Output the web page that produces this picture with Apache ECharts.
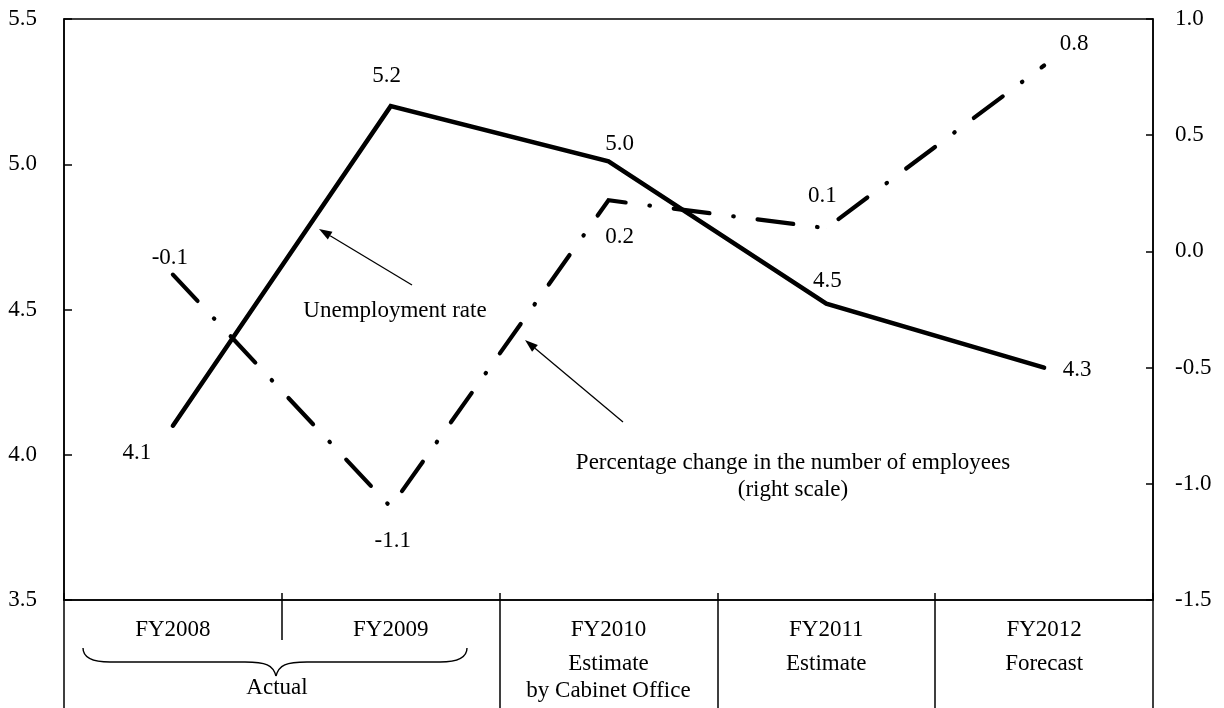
<!DOCTYPE html>
<html><head><meta charset="utf-8">
<script src="https://cdn.jsdelivr.net/npm/echarts@6/dist/echarts.min.js"></script>
<style>html,body{margin:0;padding:0;background:#fff}#c{width:1224px;height:708px}</style>
</head><body><div id="c"></div>
<script>
// ---- data ----
const categories = ['FY2008', 'FY2009', 'FY2010', 'FY2011', 'FY2012'];
const categoryNotes = ['', '', 'Estimate\nby Cabinet Office', 'Estimate', 'Forecast'];
const groupLabel = 'Actual';
const unemploymentRate = [4.1, 5.2, 5.01, 4.52, 4.3];
const employeeChange = [-0.1, -1.1, 0.22, 0.1, 0.8];
const leftScale = { min: 3.5, max: 5.5, step: 0.5 };
const rightScale = { min: -1.5, max: 1.0, step: 0.5 };
const unemploymentName = 'Unemployment rate';
const employeeName = 'Percentage change in the number of employees\n(right scale)';

// ---- styling (kept apart from data) ----
const FONT = "'Liberation Serif', 'Times New Roman', serif";
const FS = 23;
const unempLabelOffsets = [[-36, 27], [-4, -30], [11, -17], [1, -23], [33, 2]];
const empLabelOffsets = [[-3, -17], [2, 34], [11, 37], [-4, -32], [30, -22]];

function arrow(x1, y1, x2, y2) {
  const dx = x2 - x1, dy = y2 - y1, L = Math.hypot(dx, dy);
  const ux = dx / L, uy = dy / L, hl = 13, hw = 4.5;
  const bx = x2 - ux * hl, by = y2 - uy * hl;
  return [
    { type: 'line', shape: { x1: x1, y1: y1, x2: bx, y2: by }, style: { stroke: '#000', lineWidth: 1.3 }, silent: true },
    { type: 'polygon', shape: { points: [[x2, y2], [bx - uy * hw, by + ux * hw], [bx + uy * hw, by - ux * hw]] }, style: { fill: '#000' }, silent: true }
  ];
}
function bez(x1, y1, cpx1, cpy1, cpx2, cpy2, x2, y2) {
  return { type: 'bezierCurve', silent: true,
    shape: { x1: x1, y1: y1, cpx1: cpx1, cpy1: cpy1, cpx2: cpx2, cpy2: cpy2, x2: x2, y2: y2 },
    style: { stroke: '#000', lineWidth: 1.4, fill: null } };
}
function seg(x1, y1, x2, y2) {
  return { type: 'line', silent: true, shape: { x1: x1, y1: y1, x2: x2, y2: y2 }, style: { stroke: '#000', lineWidth: 1.4 } };
}

const chart = echarts.init(document.getElementById('c'), null, { renderer: 'canvas' });
const axisLineStyle = { color: '#000', width: 1.5 };
const txt = { color: '#000', fontFamily: FONT, fontSize: FS };

const catAxisBase = {
  type: 'category', data: categories, position: 'bottom', gridIndex: 0, boundaryGap: true,
  axisLine: { show: false, onZero: false }, axisLabel: { show: false }, splitLine: { show: false }
};

const option = {
  animation: false,
  backgroundColor: '#fff',
  grid: { left: 64, right: 71, top: 19, bottom: 108, show: true, borderColor: '#000', borderWidth: 1.5, containLabel: false },
  xAxis: [
    Object.assign({}, catAxisBase, {
      axisLine: { show: true, onZero: false, lineStyle: axisLineStyle },
      axisTick: { show: true, inside: true, length: 7, interval: 0, lineStyle: axisLineStyle },
      axisLabel: {
        show: true, interval: 0, margin: 9,
        formatter: function (v, i) {
          let s = '{fy|' + v + '}';
          const n = categoryNotes[i];
          if (n) s += '\n' + n.split('\n').map(t => '{sub|' + t + '}').join('\n');
          return s;
        },
        rich: {
          fy: Object.assign({ lineHeight: 41 }, txt),
          sub: Object.assign({ lineHeight: 27 }, txt)
        }
      }
    }),
    Object.assign({}, catAxisBase, {
      axisTick: { show: true, inside: false, length: 40, interval: 0, lineStyle: axisLineStyle }
    }),
    Object.assign({}, catAxisBase, {
      axisTick: { show: true, inside: false, length: 108, interval: function (i) { return i !== 1; }, lineStyle: axisLineStyle }
    })
  ],
  yAxis: [
    {
      type: 'value', position: 'left', min: leftScale.min, max: leftScale.max, interval: leftScale.step,
      axisLine: { show: true, onZero: false, lineStyle: axisLineStyle },
      axisTick: { show: true, inside: true, length: 8, lineStyle: axisLineStyle },
      splitLine: { show: false },
      axisLabel: Object.assign({ margin: 27, formatter: v => v.toFixed(1) }, txt)
    },
    {
      type: 'value', position: 'right', min: rightScale.min, max: rightScale.max, interval: rightScale.step,
      axisLine: { show: true, onZero: false, lineStyle: axisLineStyle },
      axisTick: { show: true, inside: true, length: 7, lineStyle: axisLineStyle },
      splitLine: { show: false },
      axisLabel: Object.assign({ margin: 22, formatter: v => v.toFixed(1) }, txt)
    }
  ],
  series: [
    {
      name: unemploymentName, type: 'line', xAxisIndex: 0, yAxisIndex: 0,
      data: unemploymentRate.map((v, i) => ({ value: v, label: { offset: unempLabelOffsets[i] } })),
      symbol: 'circle', symbolSize: 0.1, showSymbol: true,
      itemStyle: { color: '#000' },
      lineStyle: { color: '#000', width: 4.5, cap: 'round', join: 'miter' },
      label: Object.assign({ show: true, position: 'inside', formatter: p => p.value.toFixed(1) }, txt),
      z: 3
    },
    {
      name: employeeName, type: 'line', xAxisIndex: 0, yAxisIndex: 1,
      data: employeeChange.map((v, i) => ({ value: v, label: { offset: empLabelOffsets[i] } })),
      symbol: 'circle', symbolSize: 0.1, showSymbol: true,
      itemStyle: { color: '#000' },
      lineStyle: { color: '#000', width: 4.2, type: [36, 24, 0.5, 24], dashOffset: 0, cap: 'round', join: 'miter' },
      label: Object.assign({ show: true, position: 'inside', formatter: p => p.value.toFixed(1) }, txt),
      z: 3
    }
  ],
  graphic: [].concat(
    [{ type: 'text', x: 395, y: 311, silent: true,
       style: { text: unemploymentName, font: FS + 'px ' + FONT, fill: '#000', textAlign: 'center', textVerticalAlign: 'middle' } },
     { type: 'text', x: 793, y: 449, silent: true,
       style: { text: employeeName, font: FS + 'px ' + FONT, fill: '#000', textAlign: 'center', textVerticalAlign: 'top', lineHeight: 27 } },
     { type: 'text', x: 277, y: 688, silent: true,
       style: { text: groupLabel, font: FS + 'px ' + FONT, fill: '#000', textAlign: 'center', textVerticalAlign: 'middle' } },
     bez(83, 648, 83, 658, 92, 662, 110, 662),
     seg(110, 662, 245, 662),
     bez(245, 662, 266, 662, 273, 665, 276, 676),
     bez(276, 676, 279, 665, 286, 662, 307, 662),
     seg(307, 662, 440, 662),
     bez(440, 662, 458, 662, 467, 658, 467, 648)
    ],
    arrow(412, 285, 319, 229),
    arrow(623, 422, 525, 340)
  )
};
chart.setOption(option);
</script>
</body></html>
